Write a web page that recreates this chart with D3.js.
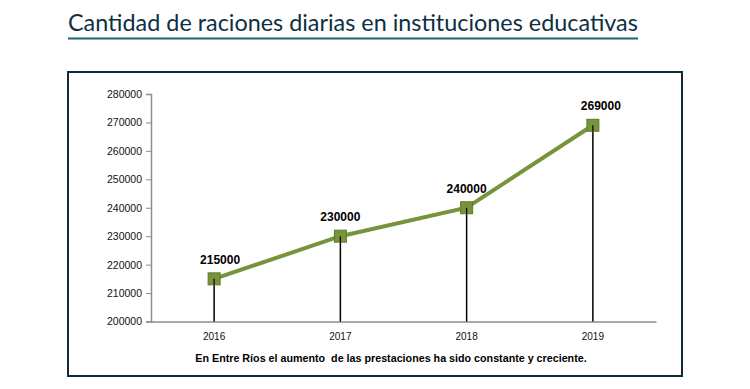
<!DOCTYPE html>
<html>
<head>
<meta charset="utf-8">
<script src="https://cdn.jsdelivr.net/npm/d3@7"></script>
<style>
  body { margin: 0; background: #fff; }
  svg { display: block; }
</style>
</head>
<body>
<svg id="chart" width="750" height="389"></svg>
<script>
// chart data
const years = ['2016', '2017', '2018', '2019'];
const raciones = [215000, 230000, 240000, 269000];
const yTicks = [200000, 210000, 220000, 230000, 240000, 250000, 260000, 270000, 280000];

const titleText = 'Cantidad de raciones diarias en instituciones educativas';
const captionText = 'En Entre Ríos el aumento  de las prestaciones ha sido constante y creciente.';

const green = '#77933c';
const svg = d3.select('#chart');

// title + underline
const title = svg.append('text')
  .attr('x', 68)
  .attr('y', 31)
  .style('font-family', 'Lato, "Open Sans", sans-serif')
  .style('font-size', '23px')
  .style('fill', '#0e2f44')
  .text(titleText);
// fit the title to the width seen in the picture
const tw = title.node().getComputedTextLength();
title.style('font-size', (23 * 570 / tw) + 'px');

svg.append('line')
  .attr('x1', 68).attr('x2', 638)
  .attr('y1', 38.5).attr('y2', 38.5)
  .style('stroke', '#1d6574')
  .style('stroke-width', 2);

// frame
svg.append('rect')
  .attr('x', 68).attr('y', 72)
  .attr('width', 614).attr('height', 304)
  .style('fill', '#fff')
  .style('stroke', '#0f2c3d')
  .style('stroke-width', 2);

// scales
const x = d3.scaleBand().domain(years).range([151, 656]);
const y = d3.scaleLinear().domain([200000, 280000]).range([321.5, 94]);

// y axis
const yAxis = svg.append('g')
  .attr('transform', 'translate(151,0)')
  .call(d3.axisLeft(y).tickValues(yTicks).tickSize(5).tickPadding(4).tickFormat(d3.format('d')));
yAxis.select('.domain').style('stroke', '#8c8c8c').style('stroke-width', 1.5);
yAxis.selectAll('.tick line').style('stroke', '#8c8c8c');
yAxis.selectAll('text')
  .style('font-family', '"Liberation Sans", Arial, sans-serif')
  .style('font-size', '10.5px')
  .style('fill', '#111');

// x axis
const xAxis = svg.append('g')
  .attr('transform', 'translate(0,' + y(200000) + ')')
  .call(d3.axisBottom(x).tickSize(0).tickPadding(11).tickSizeOuter(0));
xAxis.select('.domain').style('stroke', '#8c8c8c').style('stroke-width', 1.5);
xAxis.selectAll('text')
  .style('font-family', '"Liberation Sans", Arial, sans-serif')
  .style('font-size', '10px')
  .style('fill', '#111');

const pts = years.map(function (yr, i) {
  return { year: yr, value: raciones[i] };
});
const cx = function (d) { return x(d.year) + x.bandwidth() / 2; };

// drop lines
svg.selectAll('line.drop')
  .data(pts)
  .enter()
  .append('line')
  .attr('class', 'drop')
  .attr('x1', cx).attr('x2', cx)
  .attr('y1', function (d) { return y(d.value); })
  .attr('y2', y(200000))
  .style('stroke', '#000')
  .style('stroke-width', 1.5);

// series line
svg.append('path')
  .datum(pts)
  .attr('d', d3.line().x(cx).y(function (d) { return y(d.value); }))
  .style('fill', 'none')
  .style('stroke', green)
  .style('stroke-width', 4);

// markers
svg.selectAll('rect.mark')
  .data(pts)
  .enter()
  .append('rect')
  .attr('class', 'mark')
  .attr('x', function (d) { return cx(d) - 6; })
  .attr('y', function (d) { return y(d.value) - 6; })
  .attr('width', 12).attr('height', 12)
  .style('fill', green)
  .style('stroke', '#5e7a2a')
  .style('stroke-width', 1);

// small black stubs inside markers (drop line continues through)
svg.selectAll('line.stub')
  .data(pts)
  .enter()
  .append('line')
  .attr('class', 'stub')
  .attr('x1', cx).attr('x2', cx)
  .attr('y1', function (d) { return y(d.value); })
  .attr('y2', function (d) { return y(d.value) + 6; })
  .style('stroke', '#000')
  .style('stroke-width', 1.2);

// data labels
svg.selectAll('text.lbl')
  .data(pts)
  .enter()
  .append('text')
  .attr('class', 'lbl')
  .attr('x', function (d, i) { return cx(d) + (i === 0 ? 6 : (i === pts.length - 1 ? 8 : 0)); })
  .attr('y', function (d) { return y(d.value) - 15; })
  .attr('text-anchor', 'middle')
  .style('font-family', '"Liberation Sans", Arial, sans-serif')
  .style('font-weight', 'bold')
  .style('font-size', '12px')
  .style('fill', '#000')
  .text(function (d) { return d.value; });

// caption
const cap = svg.append('text')
  .attr('x', 391)
  .attr('y', 362)
  .attr('text-anchor', 'middle')
  .style('font-family', '"Liberation Sans", Arial, sans-serif')
  .style('font-weight', 'bold')
  .style('font-size', '11.5px')
  .style('white-space', 'pre')
  .attr('xml:space', 'preserve')
  .style('fill', '#000')
  .text(captionText);
const cw = cap.node().getComputedTextLength();
cap.style('font-size', Math.min(12, 11.5 * 392 / cw) + 'px');
</script>
</body>
</html>
